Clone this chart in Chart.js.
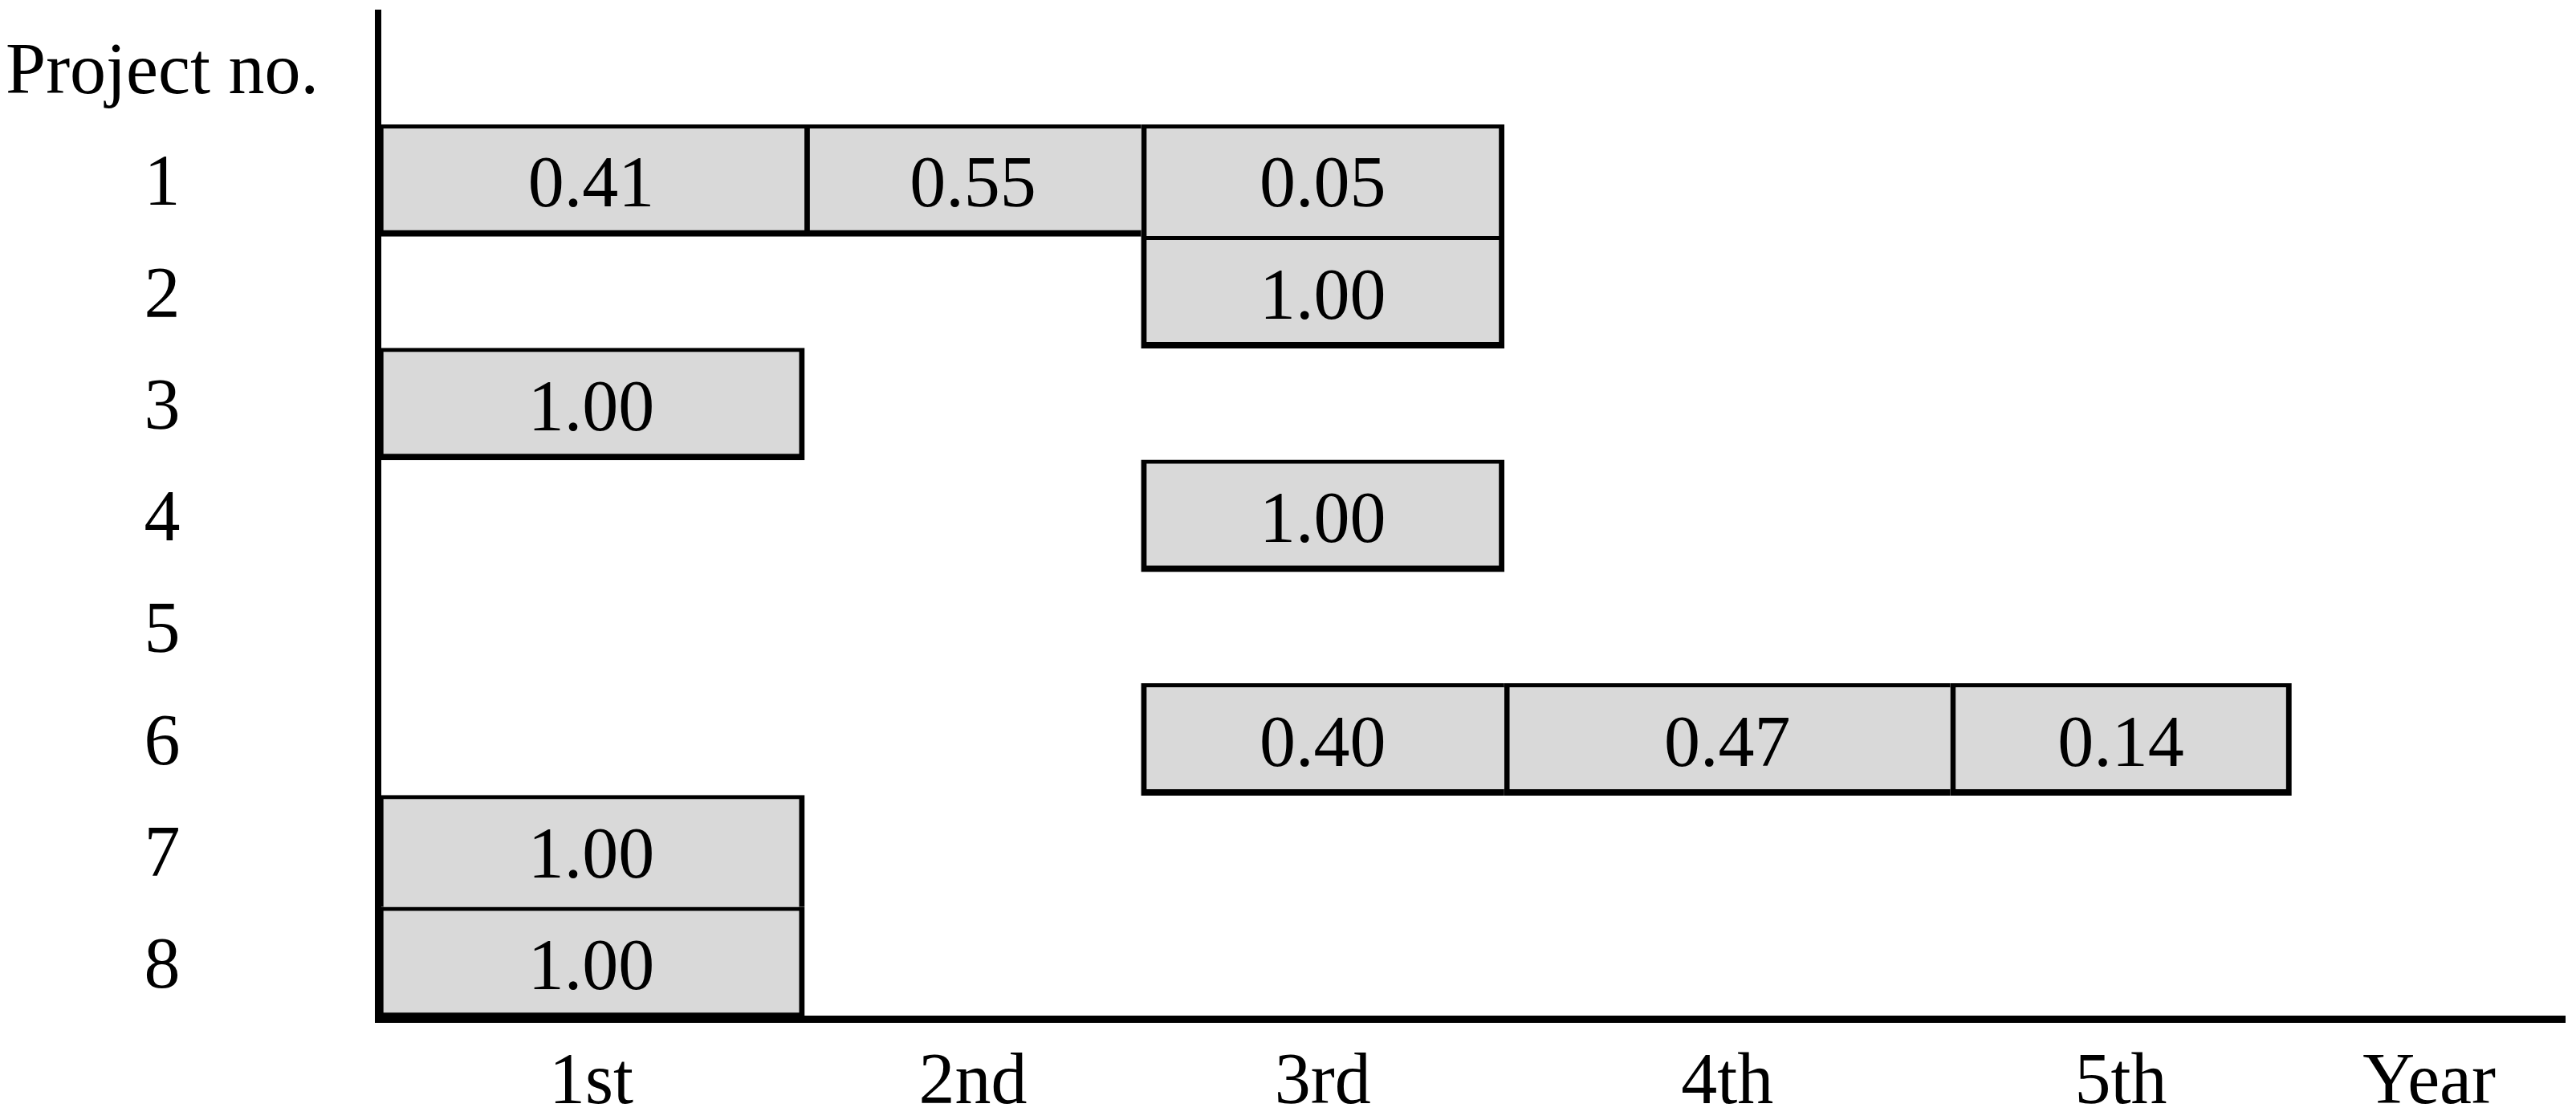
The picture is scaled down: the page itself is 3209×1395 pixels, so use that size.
<!DOCTYPE html>
<html lang="en">
<head>
    <meta charset="UTF-8">
    <title>Project schedule by year</title>
    <script src="https://cdn.jsdelivr.net/npm/chart.js"></script>
    <style>
        body {
            margin: 0;
            background: #fff;
        }
        #wrap {
            width: 3209px;
            height: 1395px;
        }
    </style>
</head>
<body>
<div id="wrap">
    <canvas id="scheduleChart" width="3209" height="1395"></canvas>
</div>

<script>
    // rows of the chart (first one is only the axis header)
    const rowLabels = ['Project no.', '1', '2', '3', '4', '5', '6', '7', '8'];
    const yearNames = ['1st', '2nd', '3rd', '4th', '5th'];
    const axisTitle = 'Year';

    // start/end of each year on the time axis (years are drawn with unequal widths)
    const yearEdges = [0, 1.95, 3.49, 5.15, 7.19, 8.75];
    const axisTitlePos = 9.38;
    const xMax = 10;

    // share of each project carried out in each year (null = nothing that year)
    const year1 = [null, 0.41, null, 1.00, null, null, null, 1.00, 1.00];
    const year2 = [null, 0.55, null, null, null, null, null, null, null];
    const year3 = [null, 0.05, 1.00, null, 1.00, null, 0.40, null, null];
    const year4 = [null, null, null, null, null, null, 0.47, null, null];
    const year5 = [null, null, null, null, null, null, 0.14, null, null];
    const shares = [year1, year2, year3, year4, year5];

    const serif = '"Liberation Serif", "Times New Roman", serif';

    // tick positions: centre of each year, then the axis title
    const tickPos = yearNames.map((_, i) => (yearEdges[i] + yearEdges[i + 1]) / 2).concat([axisTitlePos]);
    const tickText = yearNames.concat([axisTitle]);

    // write the share in the middle of each cell
    const cellLabels = {
        id: 'cellLabels',
        afterDatasetsDraw(chart) {
            const ctx = chart.ctx;
            ctx.save();
            ctx.font = '90px ' + serif;
            ctx.fillStyle = '#000';
            ctx.textAlign = 'center';
            ctx.textBaseline = 'middle';
            chart.data.datasets.forEach((ds, d) => {
                chart.getDatasetMeta(d).data.forEach((bar, i) => {
                    const v = ds.shares[i];
                    if (v === null) return;
                    const p = bar.getCenterPoint();
                    ctx.fillText(v.toFixed(2), p.x, p.y + 9);
                });
            });
            ctx.restore();
        }
    };

    const datasets = shares.map((vals, y) => ({
        label: yearNames[y],
        shares: vals,
        data: vals.map(v => v === null ? null : [yearEdges[y], yearEdges[y + 1]]),
        backgroundColor: '#d9d9d9',
        borderColor: '#000',
        borderSkipped: false,
        grouped: false,
        barPercentage: 1,
        categoryPercentage: 1,
        borderWidth: c => {
            const i = c.dataIndex;
            const next = shares[y + 1];
            return {
                top: 5,
                left: 7,
                right: next && next[i] !== null ? 0 : 7,
                bottom: vals[i + 1] !== undefined && vals[i + 1] !== null ? 0 : 8
            };
        }
    }));

    new Chart(document.getElementById('scheduleChart').getContext('2d'), {
        type: 'bar',
        data: {
            labels: rowLabels,
            datasets: datasets
        },
        options: {
            indexAxis: 'y',
            responsive: false,
            animation: false,
            devicePixelRatio: 1,
            layout: {
                padding: { top: 16, left: 0, right: 14, bottom: 0 }
            },
            plugins: {
                legend: { display: false },
                tooltip: { enabled: false }
            },
            scales: {
                y: {
                    type: 'category',
                    offset: true,
                    grid: { display: false, drawTicks: false },
                    border: { display: true, color: '#000', width: 8 },
                    afterFit: s => {
                        s.width = 471;
                        s.paddingTop = 0;
                        s.paddingBottom = 0;
                    },
                    ticks: {
                        color: '#000',
                        font: { family: serif, size: 90, lineHeight: 1.2 },
                        padding: 74,
                        labelOffset: 7,
                        crossAlign: 'center',
                        autoSkip: false
                    }
                },
                x: {
                    type: 'linear',
                    min: 0,
                    max: xMax,
                    grid: { display: false, drawTicks: false },
                    border: { display: true, color: '#000', width: 9 },
                    afterBuildTicks: scale => {
                        scale.ticks = tickPos.map(v => ({ value: v }));
                    },
                    afterFit: s => {
                        s.height = 126;
                        s.paddingLeft = 0;
                        s.paddingRight = 0;
                    },
                    ticks: {
                        color: '#000',
                        font: { family: serif, size: 90, lineHeight: 1.2 },
                        padding: 27,
                        autoSkip: false,
                        maxRotation: 0,
                        callback: (value, index) => tickText[index]
                    }
                }
            }
        },
        plugins: [cellLabels]
    });
</script>
</body>
</html>
